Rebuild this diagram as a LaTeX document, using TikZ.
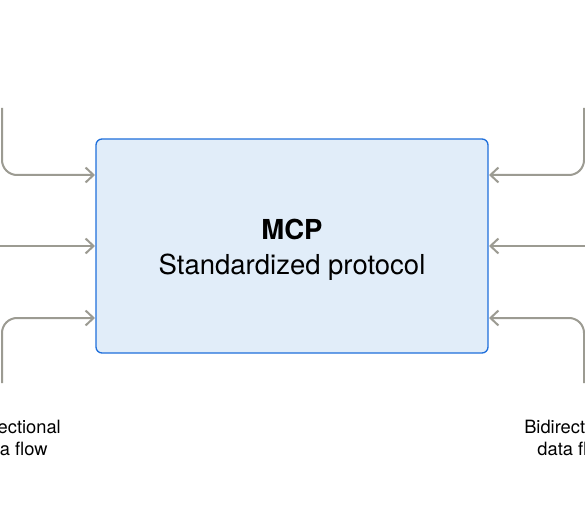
\documentclass[tikz,border=0pt]{standalone}
\usepackage{fontspec}
\setmainfont{TeX Gyre Heros}
\usetikzlibrary{arrows.meta}
\definecolor{boxfill}{HTML}{E1EDF9}
\definecolor{boxline}{HTML}{1E6FDB}
\definecolor{flow}{HTML}{9C9B92}
\begin{document}
\begin{tikzpicture}[x=1pt,y=-1pt,
  mcpbox/.style={draw=boxline,fill=boxfill,line width=1.3pt,rounded corners=6pt,
    minimum width=392pt,minimum height=214pt,inner sep=0pt},
  mcptext/.style={align=center,inner sep=0pt,font=\fontsize{27.5}{35}\selectfont},
  flowline/.style={draw=flow,line width=2pt,rounded corners=15pt,
    -{Straight Barb[length=8pt,width=15pt,line width=2pt]}},
  flowlabel/.style={align=center,inner sep=0pt,font=\fontsize{18.3}{22}\selectfont,text=black}]
\useasboundingbox[fill=white] (0,0) rectangle (585,529);
\node[mcpbox] (mcp) at (292,246) {};
\node[mcptext] (mcpt) at (292,249.5) {\textbf{MCP}\\Standardized protocol};
% left side
\coordinate (l1s) at (2,108);
\coordinate (l1e) at (95,175);
\coordinate (l2s) at (-2,246);
\coordinate (l2e) at (95,246);
\coordinate (l3s) at (2,383);
\coordinate (l3e) at (95,318);
\draw[flowline] (l1s) |- (l1e);
\draw[flowline] (l2s) -- (l2e);
\draw[flowline] (l3s) |- (l3e);
% right side
\coordinate (r1s) at (584,108);
\coordinate (r1e) at (489,175);
\coordinate (r2s) at (587,246);
\coordinate (r2e) at (489,246);
\coordinate (r3s) at (584,383);
\coordinate (r3e) at (489,318);
\draw[flowline] (r1s) |- (r1e);
\draw[flowline] (r2s) -- (r2e);
\draw[flowline] (r3s) |- (r3e);
\node[flowlabel] (ll) at (11,437.5) {Bidirectional\\data flow};
\node[flowlabel] (rl) at (574,437.5) {Bidirectional\\data flow};
\end{tikzpicture}
\end{document}
